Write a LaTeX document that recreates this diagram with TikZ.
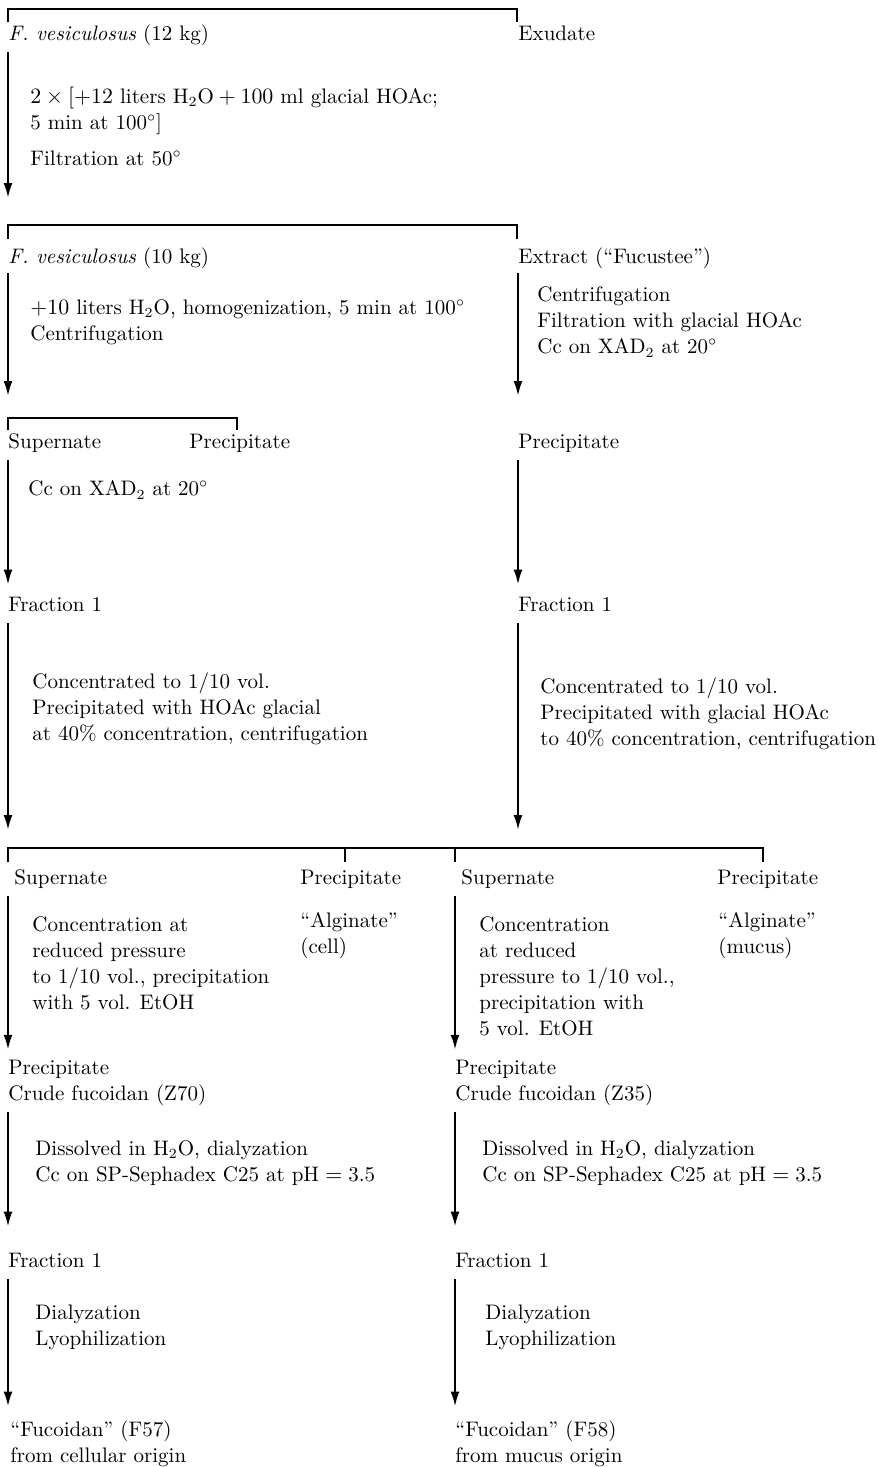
\documentclass[tikz,border=0pt]{standalone}
\usepackage{amsmath,amssymb}
\usepackage{tikz}
\usetikzlibrary{arrows.meta,positioning,calc}

\tikzset{
  lbl/.style={anchor=west,inner sep=0pt,text height=8pt,text depth=3pt,
              font=\fontsize{10.5}{13}\selectfont},
  txt/.style={anchor=west,inner sep=0pt,align=left,
              font=\fontsize{10.5}{13}\selectfont},
  flow/.style={line width=1.1pt,-{Latex[length=7.5pt,width=4.5pt]}},
  brk/.style={line width=1.3pt},
}

\begin{document}
\begin{tikzpicture}[x=0.5pt,y=-0.5pt]
  \useasboundingbox (0,0) rectangle (887,1467);

  % hot extraction of the algae
  \coordinate (b1l) at (8,9);
  \coordinate (b1r) at (517,9);
  \draw[brk] ($(b1l)+(0,13)$) -- (b1l) -- (b1r) -- ++(0,13);
  \node[lbl] (fv12) at (8,35) {\textit{F. vesiculosus} (12 kg)};
  \node[lbl] (exud) at (518,35) {Exudate};
  \node[txt] (st1) at (30,111) {$2\times[+12$ liters H$_2$O${}+100$ ml glacial HOAc;\\
                                 5 min at 100$^\circ$]};
  \node[lbl] (st2) at (30,160) {Filtration at 50$^\circ$};

  % second split
  \coordinate (b2l) at (8,225);
  \coordinate (b2r) at (517,225);
  \draw[flow] ([yshift=-3pt]fv12.south west) -- ([yshift=13.5pt]b2l);
  \draw[brk] ($(b2l)+(0,14)$) -- (b2l) -- (b2r) -- ++(0,14);
  \node[lbl] (fv10) at (8,258) {\textit{F. vesiculosus} (10 kg)};
  \node[lbl] (extr) at (518,258) {Extract (“Fucustee”)};
  \node[txt] (st3) at (30,322) {$+10$ liters H$_2$O, homogenization, 5 min at 100$^\circ$\\
                                Centrifugation};
  \node[txt] (st4) at (537,322) {Centrifugation\\Filtration with glacial HOAc\\
                                 Cc on XAD$_2$ at 20$^\circ$};

  % centrifugation products
  \coordinate (b3l) at (8,418);
  \coordinate (b3r) at (237,418);
  \draw[flow] ([yshift=-2pt]fv10.south west) -- ([yshift=11pt]b3l);
  \draw[brk] ($(b3l)+(0,12)$) -- (b3l) -- (b3r) -- ++(0,12);
  \node[lbl] (sup1) at (8,443) {Supernate};
  \node[lbl] (pre1) at (189,443) {Precipitate};
  \node[lbl] (pre2) at (518,443) {Precipitate};
  \draw[flow] ([yshift=-2pt]extr.south west) -- ([yshift=11pt]pre2.west |- b3l);
  \node[txt] (st5) at (28,490) {Cc on XAD$_2$ at 20$^\circ$};

  \node[lbl] (fra1) at (8,606) {Fraction 1};
  \node[lbl] (fra2) at (518,606) {Fraction 1};
  \draw[flow] ([yshift=-3pt]sup1.south west) -- ([yshift=5pt]fra1.north west);
  \draw[flow] ([yshift=-3pt]pre2.south west) -- ([yshift=5pt]fra2.north west);
  \node[txt] (st6) at (32,709) {Concentrated to 1/10 vol.\\Precipitated with HOAc glacial\\
                                at 40\% concentration, centrifugation};
  \node[txt] (st7) at (540,714) {Concentrated to 1/10 vol.\\Precipitated with glacial HOAc\\
                                 to 40\% concentration, centrifugation};

  % acid precipitation products
  \coordinate (b4l) at (8,848);
  \coordinate (b4m) at (345,848);
  \coordinate (b4n) at (455,848);
  \coordinate (b4r) at (763,848);
  \draw[flow] ([yshift=-3pt]fra1.south west) -- ([yshift=9pt]b4l);
  \draw[flow] ([yshift=-3pt]fra2.south west) -- ([yshift=9pt]fra2.west |- b4l);
  \draw[brk] ($(b4l)+(0,14)$) -- (b4l) -- (b4r) -- ++(0,14);
  \draw[brk] (b4m) -- ++(0,14);
  \draw[brk] (b4n) -- ++(0,14);
  \node[lbl] (sup3) at (14,879) {Supernate};
  \node[lbl] (pre3) at (300,879) {Precipitate};
  \node[lbl] (sup4) at (461,879) {Supernate};
  \node[lbl] (pre4) at (717,879) {Precipitate};
  \node[txt] (st8) at (32,963) {Concentration at\\reduced pressure\\
                                to 1/10 vol., precipitation\\with 5 vol. EtOH};
  \node[txt] (alg1) at (300,936) {“Alginate”\\(cell)};
  \node[txt] (st9) at (479,976) {Concentration\\at reduced\\pressure to 1/10 vol.,\\
                                 precipitation with\\5 vol. EtOH};
  \node[txt] (alg2) at (718,936) {“Alginate”\\(mucus)};

  % crude fucoidan
  \node[txt] (crd1) at (8,1083) {Precipitate\\Crude fucoidan (Z70)};
  \node[txt] (crd2) at (455,1083) {Precipitate\\Crude fucoidan (Z35)};
  \draw[flow] (b4l |- sup3.south) ++(0,6) -- ([yshift=5pt]crd1.north west);
  \draw[flow] (b4n |- sup4.south) ++(0,6) -- ([yshift=5pt]crd2.north west);
  \node[txt] (st10) at (35,1163) {Dissolved in H$_2$O, dialyzation\\
                                  Cc on SP-Sephadex C25 at pH${}={}$3.5};
  \node[txt] (st11) at (482,1163) {Dissolved in H$_2$O, dialyzation\\
                                   Cc on SP-Sephadex C25 at pH${}={}$3.5};

  \node[lbl] (fra3) at (8,1262) {Fraction 1};
  \node[lbl] (fra4) at (455,1262) {Fraction 1};
  \draw[flow] ([yshift=-3pt]crd1.south west) -- ([yshift=12pt]fra3.north west);
  \draw[flow] ([yshift=-3pt]crd2.south west) -- ([yshift=12pt]fra4.north west);
  \node[txt] (st12) at (35,1327) {Dialyzation\\Lyophilization};
  \node[txt] (st13) at (485,1327) {Dialyzation\\Lyophilization};

  % purified fucoidans
  \node[txt] (fuc1) at (10,1444) {“Fucoidan” (F57)\\from cellular origin};
  \node[txt] (fuc2) at (455,1444) {“Fucoidan” (F58)\\from mucus origin};
  \draw[flow] ([yshift=-3pt]fra3.south west) -- ([yshift=7pt]fra3.west |- fuc1.north);
  \draw[flow] ([yshift=-3pt]fra4.south west) -- ([yshift=7pt]fra4.west |- fuc2.north);
\end{tikzpicture}
\end{document}
